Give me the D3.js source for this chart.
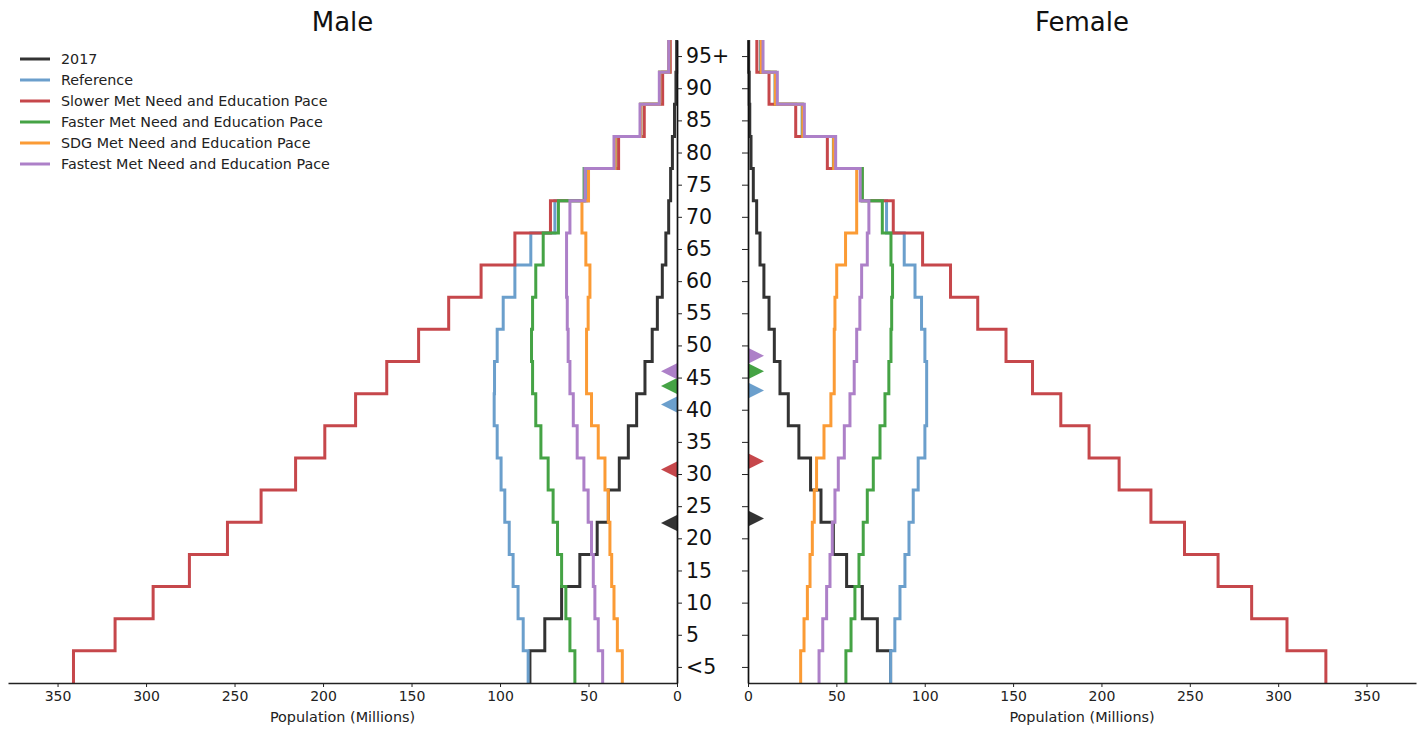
<!DOCTYPE html>
<html>
<head>
<meta charset="utf-8">
<script src="https://cdn.jsdelivr.net/npm/d3@7"></script>
<style>
  body { margin: 0; background: #fff; }
  svg { display: block; font-family: "DejaVu Sans", sans-serif; }
</style>
</head>
<body>
<svg id="chart" width="1426" height="732"></svg>
<script>
// ---------- data ----------
const ageLabels = ["<5","5","10","15","20","25","30","35","40","45","50","55","60","65","70","75","80","85","90","95+"];
const xTicks = [0, 50, 100, 150, 200, 250, 300, 350];
const seriesNames = ["2017", "Reference", "Slower Met Need and Education Pace", "Faster Met Need and Education Pace", "SDG Met Need and Education Pace", "Fastest Met Need and Education Pace"];
const seriesColors = ["#333333", "#6b9fcc", "#c6474b", "#45a345", "#fb9b35", "#ad80c8"];

// Male population by 5-year age group (millions), <5 ... 95+
const male2017    = [83.1, 74.7, 65.2, 54.9, 45.1, 38.8, 32.6, 27.5, 22.8, 18.1, 14.0, 11.1, 8.3, 6.3, 4.7, 3.6, 2.6, 1.4, 0.6, 0.2];
const maleRef     = [84.1, 86.9, 89.8, 92.6, 94.8, 97.3, 99.4, 101.6, 103.3, 103.1, 101.6, 98.2, 91.6, 82.6, 69.0, 51.0, 35.0, 20.5, 9.8, 4.6];
const maleSlower  = [341, 317.5, 296, 275.5, 254, 235, 215.5, 199, 181.6, 164, 146, 129, 110.7, 91.6, 71.5, 50.0, 33.0, 18.5, 8.1, 3.8];
const maleFaster  = [57.7, 60.5, 62.8, 65.2, 67.5, 70.0, 72.8, 76.9, 79.8, 81.6, 82.2, 81.6, 79.8, 75.6, 67.0, 52.5, 35.0, 20.5, 9.8, 4.6];
const maleSDG     = [30.9, 33.7, 35.6, 36.9, 37.9, 38.8, 40.7, 44.5, 48.3, 51.1, 51.1, 50.2, 49.2, 51.5, 53.7, 50.0, 35.0, 20.5, 9.8, 4.6];
const maleFastest = [42.0, 44.5, 46.4, 47.3, 48.3, 50.2, 52.6, 56.4, 58.6, 60.5, 61.5, 62.0, 62.4, 62.4, 60.5, 52.0, 35.6, 20.9, 10.0, 4.7];

// Female population by 5-year age group (millions)
const female2017    = [80.7, 73.2, 64.7, 55.8, 48.3, 41.3, 35.4, 28.8, 22.8, 18.1, 14.9, 11.9, 9.0, 6.8, 4.9, 3.0, 1.7, 1.0, 0.7, 0.4];
const femaleRef     = [80.7, 83.1, 86.0, 88.8, 91.1, 93.5, 96.3, 100.1, 101.1, 101.1, 100.1, 98.2, 94.5, 88.4, 78.4, 64.0, 48.3, 30.6, 15.3, 7.0];
const femaleSlower  = [327, 305, 285, 266, 247, 228, 210, 193, 177, 161, 146, 130, 114.6, 98.8, 82.2, 64.5, 44.9, 27.0, 11.9, 5.0];
const femaleFaster  = [55.4, 58.3, 60.5, 62.8, 65.2, 67.5, 70.9, 74.7, 77.5, 79.7, 80.9, 81.3, 81.8, 80.9, 76.0, 64.7, 48.5, 31.0, 15.5, 7.5];
const femaleSDG     = [29.8, 31.7, 33.6, 35.1, 36.4, 37.5, 38.8, 43.0, 46.9, 48.8, 48.8, 49.2, 50.2, 55.2, 61.5, 61.5, 48.5, 31.0, 15.5, 7.5];
const femaleFastest = [40.2, 42.3, 44.5, 46.4, 47.7, 49.2, 51.1, 54.5, 57.7, 60.1, 61.5, 63.3, 64.3, 67.5, 68.4, 63.5, 49.6, 31.9, 16.6, 8.5];

// Median age markers (years); null = not shown
const maleMedian   = [24.9, 43.3, 33.2, 46.2, null, 48.5];
const femaleMedian = [25.6, 45.5, 34.5, 48.5, null, 50.9];

// ---------- drawing ----------
const svg = d3.select("#chart");
const maleSeries = [male2017, maleRef, maleSlower, maleFaster, maleSDG, maleFastest];
const femaleSeries = [female2017, femaleRef, femaleSlower, femaleFaster, femaleSDG, femaleFastest];

const y = d3.scaleLinear().domain([0, 100]).range([683, 40]);
const xM = d3.scaleLinear().domain([0, 378]).range([677, 8]);
const xF = d3.scaleLinear().domain([0, 378]).range([748, 1416]);
const tickPos = ageLabels.map((d, i) => 2.5 + 5 * i);

function stepPoints(vals) {
  const pts = [];
  vals.forEach((v, i) => { pts.push([v, 5 * i]); pts.push([v, 5 * (i + 1)]); });
  return pts;
}

function drawPanel(x, seriesList, medians, isMale) {
  const g = svg.append("g");
  const line = d3.line().x(d => x(d[0])).y(d => y(d[1]));
  seriesList.forEach((vals, k) => {
    g.append("path")
      .attr("d", line(stepPoints(vals)))
      .attr("fill", "none")
      .attr("stroke", seriesColors[k])
      .attr("stroke-width", 3)
      .attr("stroke-linejoin", "miter");
  });
  // median markers
  medians.forEach((m, k) => {
    if (m == null) return;
    const x0 = x(0), yy = y(m);
    const tip = isMale ? x0 - 16 : x0 + 16;
    g.append("path")
      .attr("d", `M${x0},${yy - 8}L${tip},${yy}L${x0},${yy + 8}Z`)
      .attr("fill", seriesColors[k]);
  });
  // x axis
  const ax = g.append("g").attr("transform", `translate(0,${y(0)})`)
    .call(d3.axisBottom(x).tickValues(xTicks).tickSize(4).tickSizeOuter(0).tickPadding(4));
  ax.select(".domain").attr("stroke", "#222").attr("stroke-width", 1.3);
  ax.selectAll(".tick line").attr("stroke", "#222");
  ax.selectAll(".tick text").attr("font-size", 14).attr("fill", "#222")
    .attr("font-family", "DejaVu Sans, sans-serif");
  // y spine at zero
  const yAxis = isMale
    ? d3.axisRight(y).tickValues(tickPos).tickFormat((d, i) => ageLabels[i]).tickSize(5).tickSizeOuter(0).tickPadding(4)
    : d3.axisLeft(y).tickValues(tickPos).tickFormat("").tickSize(6).tickSizeOuter(0);
  const ay = g.append("g").attr("transform", `translate(${x(0)},0)`).call(yAxis);
  ay.select(".domain").attr("stroke", "#111").attr("stroke-width", 1.7);
  ay.selectAll(".tick line").attr("stroke", "#222");
  ay.selectAll(".tick text").attr("font-size", 20.5).attr("fill", "#111")
    .attr("font-family", "DejaVu Sans, sans-serif");
  // axis label
  const cx = (x.range()[0] + x.range()[1]) / 2;
  g.append("text").attr("x", cx).attr("y", 722).attr("text-anchor", "middle")
    .attr("font-size", 14.4).attr("fill", "#222").text("Population (Millions)");
  // title
  g.append("text").attr("x", cx).attr("y", 31).attr("text-anchor", "middle")
    .attr("font-size", 26).attr("fill", "#111").text(isMale ? "Male" : "Female");
}

drawPanel(xM, maleSeries, maleMedian, true);
drawPanel(xF, femaleSeries, femaleMedian, false);

// legend
const leg = svg.append("g").attr("transform", "translate(20,59)");
seriesNames.forEach((name, k) => {
  const row = leg.append("g").attr("transform", `translate(0,${k * 21})`);
  row.append("line").attr("x1", 0).attr("x2", 30).attr("y1", 0).attr("y2", 0)
    .attr("stroke", seriesColors[k]).attr("stroke-width", 3);
  row.append("text").attr("x", 41).attr("y", 0).attr("dy", "0.35em")
    .attr("font-size", 14.3).attr("fill", "#222").text(name);
});
</script>
</body>
</html>
